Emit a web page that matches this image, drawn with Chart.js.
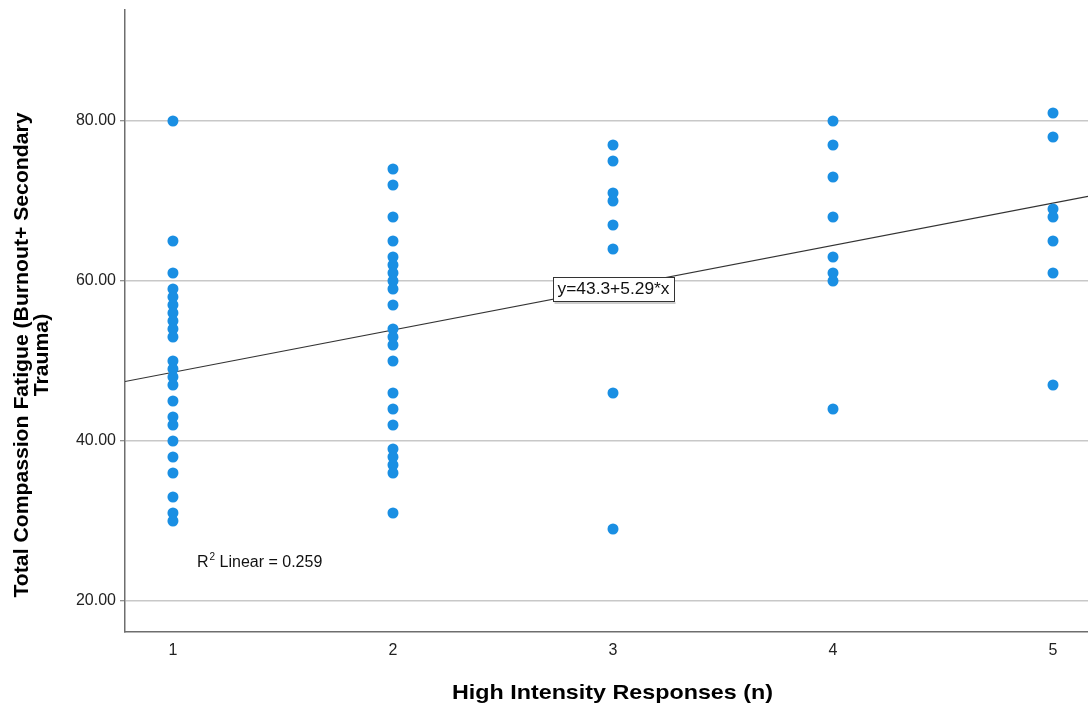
<!DOCTYPE html>
<html>
<head>
<meta charset="utf-8">
<script src="https://cdn.jsdelivr.net/npm/chart.js@4.4.1/dist/chart.umd.min.js"></script>
<style>
  html, body { margin: 0; padding: 0; background: #ffffff; }
  #wrap { width: 1088px; height: 706px; position: relative; }
</style>
</head>
<body>
<div id="wrap"><canvas id="c" width="1088" height="706"></canvas></div>
<script>
// ---- data ----
const groups = [1, 2, 3, 4, 5];
const group1 = [80, 65, 61, 59, 58, 57, 56, 55, 54, 53, 50, 49, 48, 47, 45, 43, 42, 40, 38, 36, 33, 31, 30];
const group2 = [74, 72, 68, 65, 63, 62, 61, 60, 59, 57, 54, 53, 52, 50, 46, 44, 42, 39, 38, 37, 36, 31];
const group3 = [77, 75, 71, 70, 67, 64, 46, 29];
const group4 = [80, 77, 73, 68, 63, 61, 60, 44];
const group5 = [81, 78, 69, 68, 65, 61, 47];
const yTicks = [20, 40, 60, 80];
const xTicks = [1, 2, 3, 4, 5];
const fitIntercept = 43.3;
const fitSlope = 5.29;
const fitLabel = 'y=43.3+5.29*x';
const r2Value = '0.259';
const xTitle = 'High Intensity Responses (n)';
const yTitleLines = ['Total Compassion Fatigue (Burnout+ Secondary', 'Trauma)'];

const xMin = 0.782, xMax = 5.159;
const yMin = 16.125, yMax = 93.875;

const allGroups = [group1, group2, group3, group4, group5];
const points = [];
allGroups.forEach((g, i) => g.forEach(v => points.push({ x: groups[i], y: v })));
const fitLine = [
  { x: xMin, y: fitIntercept + fitSlope * xMin },
  { x: xMax, y: fitIntercept + fitSlope * xMax }
];

const FONT = '"Liberation Sans", Arial, sans-serif';

function fitText(ctx, text, cx, cy, targetW) {
  const w = ctx.measureText(text).width;
  ctx.save();
  ctx.translate(cx, cy);
  ctx.scale(targetW / w, 1);
  ctx.fillText(text, 0, 0);
  ctx.restore();
}

const annot = {
  id: 'annot',
  afterDraw(chart) {
    const ctx = chart.ctx;
    ctx.save();
    // equation box
    const cx = 613.5, cy = 289;
    const bw = 121, bh = 24;
    const bx = Math.round(cx - bw / 2) + 0.5, by = Math.round(cy - bh / 2) + 0.5;
    ctx.fillStyle = '#ffffff';
    ctx.fillRect(bx, by, bw, bh);
    ctx.strokeStyle = '#9a9a9a';
    ctx.lineWidth = 1;
    ctx.beginPath(); ctx.moveTo(bx + 1, by + bh + 1.5); ctx.lineTo(bx + bw + 1, by + bh + 1.5); ctx.stroke();
    ctx.strokeStyle = '#333333';
    ctx.strokeRect(bx, by, bw, bh);
    ctx.fillStyle = '#111111';
    ctx.textAlign = 'center';
    ctx.textBaseline = 'middle';
    ctx.font = '16px ' + FONT;
    fitText(ctx, fitLabel, cx, cy + 1, 112);

    // R^2 label
    ctx.textAlign = 'left';
    ctx.textBaseline = 'alphabetic';
    ctx.font = '16px ' + FONT;
    let x0 = 197, base = 567;
    ctx.fillText('R', x0, base);
    x0 += ctx.measureText('R').width + 1;
    ctx.font = '10px ' + FONT;
    ctx.fillText('2', x0, base - 7);
    x0 += ctx.measureText('2').width;
    ctx.font = '16px ' + FONT;
    ctx.fillText(' Linear = ' + r2Value, x0, base);

    // axis titles
    ctx.fillStyle = '#000000';
    ctx.font = 'bold 21px ' + FONT;
    ctx.textAlign = 'center';
    ctx.textBaseline = 'middle';
    fitText(ctx, xTitle, 612.5, 693, 321);

    ctx.translate(32, 355);
    ctx.rotate(-Math.PI / 2);
    fitText(ctx, yTitleLines[0], 0, -10, 485);
    fitText(ctx, yTitleLines[1], 0, 10, 485 * ctx.measureText(yTitleLines[1]).width / ctx.measureText(yTitleLines[0]).width);
    ctx.restore();
  }
};

new Chart(document.getElementById('c'), {
  type: 'scatter',
  data: {
    datasets: [
      {
        type: 'line',
        data: fitLine,
        borderColor: '#333333',
        borderWidth: 1.2,
        pointRadius: 0,
        fill: false,
        order: 2
      },
      {
        data: points,
        backgroundColor: '#1a8fe3',
        borderColor: '#1a8fe3',
        pointRadius: 5.5,
        pointHoverRadius: 5.5,
        borderWidth: 0,
        order: 1
      }
    ]
  },
  options: {
    responsive: false,
    animation: false,
    events: [],
    layout: { autoPadding: false, padding: { top: 10, left: 0, right: 0, bottom: 0 } },
    plugins: { legend: { display: false }, tooltip: { enabled: false } },
    scales: {
      x: {
        type: 'linear',
        min: xMin,
        max: xMax,
        afterBuildTicks: s => { s.ticks = xTicks.map(v => ({ value: v })); },
        afterFit: s => { s.height = 74; s.paddingLeft = 0; s.paddingRight = 0; },
        grid: { display: false, drawTicks: false },
        border: { display: true, color: '#6e6e6e', width: 1.5 },
        ticks: {
          padding: 9,
          color: '#222222',
          font: { family: FONT, size: 16 },
          maxRotation: 0,
          callback: v => String(v)
        }
      },
      y: {
        type: 'linear',
        min: yMin,
        max: yMax,
        afterBuildTicks: s => { s.ticks = yTicks.map(v => ({ value: v })); },
        afterFit: s => { s.width = 125; s.paddingTop = 0; s.paddingBottom = 0; },
        grid: {
          color: '#c8c8c8',
          lineWidth: 1.5,
          drawTicks: true,
          tickLength: 5,
          tickColor: '#6e6e6e',
          tickWidth: 1
        },
        border: { display: true, color: '#6e6e6e', width: 1.5 },
        ticks: {
          padding: 4,
          color: '#222222',
          font: { family: FONT, size: 16 },
          callback: v => Number(v).toFixed(2)
        }
      }
    }
  },
  plugins: [annot]
});
</script>
</body>
</html>
